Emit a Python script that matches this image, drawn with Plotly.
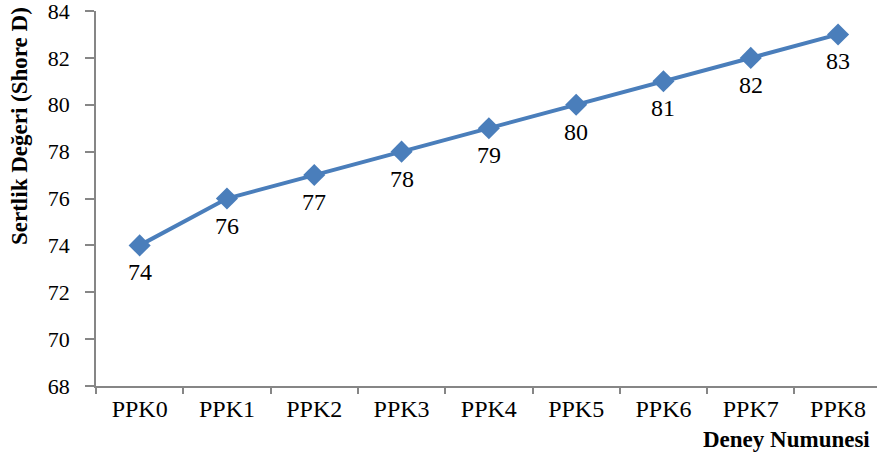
import plotly.graph_objects as go

samples = ["PPK0", "PPK1", "PPK2", "PPK3", "PPK4", "PPK5", "PPK6", "PPK7", "PPK8"]
hardness = [74, 76, 77, 78, 79, 80, 81, 82, 83]
y_ticks = [68, 70, 72, 74, 76, 78, 80, 82, 84]

W, H = 877, 454
L, R, T, B = 96, 0, 11, 68

line_color = "#4A7EBB"
axis_color = "#868686"
serif = "Liberation Serif"

fig = go.Figure()
fig.add_trace(go.Scatter(
    x=samples, y=hardness, mode="lines+markers",
    line=dict(color=line_color, width=4),
    marker=dict(symbol="diamond", size=17, color=line_color),
    showlegend=False, hoverinfo="skip", cliponaxis=False,
))

# value labels under each point
for s, v in zip(samples, hardness):
    fig.add_annotation(x=s, y=v, xref="x", yref="y", text=str(v),
                       showarrow=False, yshift=-27,
                       font=dict(family=serif, size=24, color="black"))

fig.add_annotation(text="<b>Deney Numunesi</b>", xref="paper", yref="paper",
                   x=(872 - L) / (W - L - R), y=-(439 - (H - B)) / (H - T - B),
                   xanchor="right", yanchor="middle", showarrow=False,
                   font=dict(family=serif, size=23, color="black"))
fig.add_annotation(text="<b>Sertlik Değeri (Shore D)</b>", xref="paper", yref="paper",
                   x=-(L - 20) / (W - L - R), y=((H - B) - 126) / (H - T - B),
                   xanchor="center", yanchor="middle", textangle=-90, showarrow=False,
                   font=dict(family=serif, size=23, color="black"))

fig.update_xaxes(
    type="category", range=[-0.5, 8.446], tickson="boundaries", automargin=False,
    showline=True, linecolor=axis_color, linewidth=1.5,
    ticks="outside", ticklen=6, tickcolor=axis_color, tickwidth=1.5,
    showgrid=False, zeroline=False,
    tickfont=dict(family=serif, size=24, color="black"),
)
fig.update_yaxes(
    range=[68, 84], tickvals=y_ticks, ticklabeloverflow="allow", automargin=False,
    showline=True, linecolor=axis_color, linewidth=1.5,
    ticks="outside", ticklen=9, tickcolor=axis_color, tickwidth=1.5,
    ticklabelstandoff=11,
    showgrid=False, zeroline=False,
    tickfont=dict(family=serif, size=22, color="black"),
)
fig.update_layout(
    width=W, height=H, margin=dict(l=L, r=R, t=T, b=B, autoexpand=False),
    plot_bgcolor="white", paper_bgcolor="white",
)
fig.write_html("out.html")
